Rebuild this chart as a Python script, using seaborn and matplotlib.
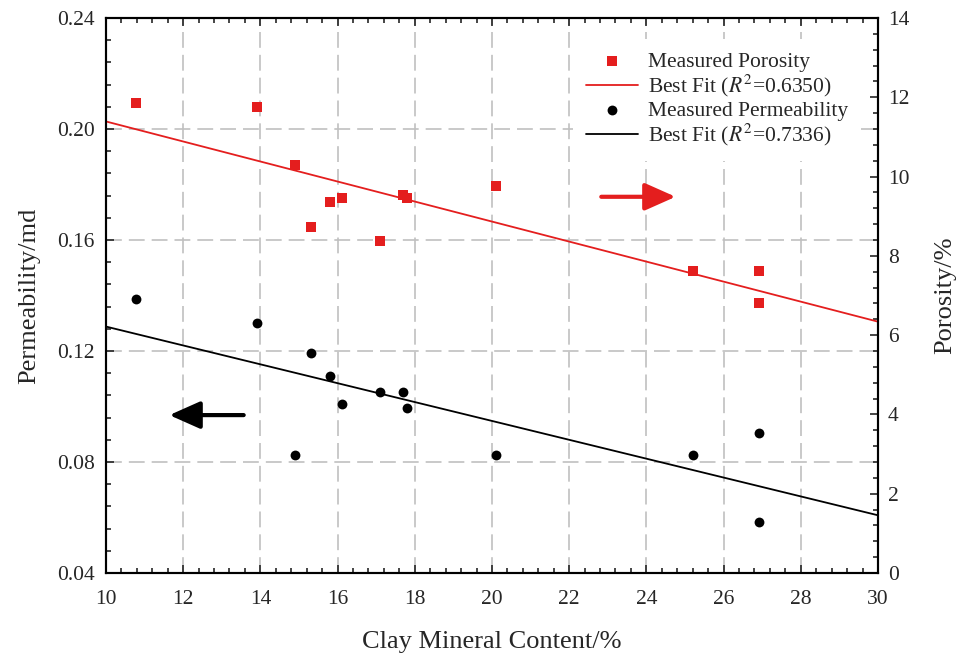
import matplotlib
matplotlib.use("Agg")
import matplotlib.pyplot as plt
from matplotlib.ticker import MultipleLocator, AutoMinorLocator, FormatStrFormatter
import seaborn as sns

# --- data ---
clay_content = [10.79, 13.90, 14.91, 15.31, 15.80, 16.11, 17.11, 17.70, 17.80, 20.10, 25.22, 26.91, 26.91]
porosity = [11.86, 11.76, 10.29, 8.72, 9.36, 9.45, 8.38, 9.54, 9.45, 9.75, 7.62, 7.62, 6.81]
permeability = [0.1387, 0.1301, 0.0826, 0.1193, 0.1111, 0.1009, 0.1052, 0.1052, 0.0995, 0.0825, 0.0825, 0.0905, 0.0584]

# best-fit lines (end points)
fit_x = [10, 30]
porosity_fit = [11.39, 6.34]
permeability_fit = [0.1288, 0.0608]

red = '#e41e1e'

sns.set_style("ticks")
plt.rcParams['font.family'] = ['Liberation Serif', 'DejaVu Serif']
plt.rcParams['mathtext.fontset'] = 'stix'

fig = plt.figure(figsize=(9.59, 6.59), dpi=100)
ax = fig.add_axes([0.1105, 0.1305, 0.805, 0.8422])
ax2 = ax.twinx()

# permeability on left axis
sns.scatterplot(x=clay_content, y=permeability, ax=ax, color='black', marker='o',
                s=50, linewidth=0, label='Measured Permeability', zorder=3)
sns.lineplot(x=fit_x, y=permeability_fit, ax=ax, color='black', lw=1.3,
             label='Best Fit ($R^{2}$=0.7336)')

# porosity on right axis
sns.scatterplot(x=clay_content, y=porosity, ax=ax2, color=red, marker='s',
                s=50, linewidth=0, label='Measured Porosity', zorder=3)
sns.lineplot(x=fit_x, y=porosity_fit, ax=ax2, color=red, lw=1.3,
             label='Best Fit ($R^{2}$=0.6350)')

# arrows showing which axis each series belongs to
arrow_style = '-|>,head_length=0.9,head_width=0.4'
ax.annotate('', xy=(11.57, 0.0969), xytext=(13.64, 0.0969),
            arrowprops=dict(arrowstyle=arrow_style, color='black', lw=3, mutation_scale=21))
ax2.annotate('', xy=(24.83, 9.49), xytext=(22.76, 9.49),
             arrowprops=dict(arrowstyle=arrow_style, color=red, lw=3, mutation_scale=21))

# axes
ax.set_xlim(10, 30)
ax.set_ylim(0.04, 0.24)
ax2.set_ylim(0, 14)
ax.xaxis.set_major_locator(MultipleLocator(2))
ax.xaxis.set_minor_locator(AutoMinorLocator(5))
ax.yaxis.set_major_locator(MultipleLocator(0.04))
ax.yaxis.set_minor_locator(AutoMinorLocator(5))
ax.yaxis.set_major_formatter(FormatStrFormatter('%.2f'))
ax2.yaxis.set_major_locator(MultipleLocator(2))
ax2.yaxis.set_minor_locator(AutoMinorLocator(5))

ax.grid(True, which='major', color='#c0c0c0', linestyle=(0, (9.5, 4.2)), lw=1.2)
ax2.grid(False)

ax.tick_params(axis='both', which='both', direction='in', top=True, right=False,
               labelsize=15.5, width=1.2)
ax.tick_params(axis='y', pad=8)
ax.tick_params(axis='x', pad=12)
ax.tick_params(which='major', length=6)
ax.tick_params(which='minor', length=3.5)
ax2.tick_params(axis='y', which='both', direction='in', right=True, left=False,
                labelsize=15.5, width=1.2, pad=7)
ax2.tick_params(which='major', length=6)
ax2.tick_params(which='minor', length=3.5)

for a in (ax, ax2):
    for sp in a.spines.values():
        sp.set_linewidth(1.5)
        sp.set_color('black')

ax.set_xlabel('Clay Mineral Content/%', fontsize=19, labelpad=16)
ax.set_ylabel('Permeability/md', fontsize=19, labelpad=12)
ax2.set_ylabel('Porosity/%', fontsize=19, labelpad=18)

# combined legend on a white, borderless box
h1, l1 = ax.get_legend_handles_labels()
h2, l2 = ax2.get_legend_handles_labels()
ax.get_legend().remove()
ax2.get_legend().remove()
leg = ax2.legend(h2 + h1, l2 + l1, loc='upper left', bbox_to_anchor=(0.605, 0.962),
                 frameon=True, fancybox=False, fontsize=15.5, handlelength=2.4,
                 handletextpad=0.5, labelspacing=0.05, borderaxespad=0, borderpad=0.6)
leg.get_frame().set_facecolor('white')
leg.get_frame().set_edgecolor('none')
leg.get_frame().set_alpha(1)

plt.savefig('out.png', dpi=100)
